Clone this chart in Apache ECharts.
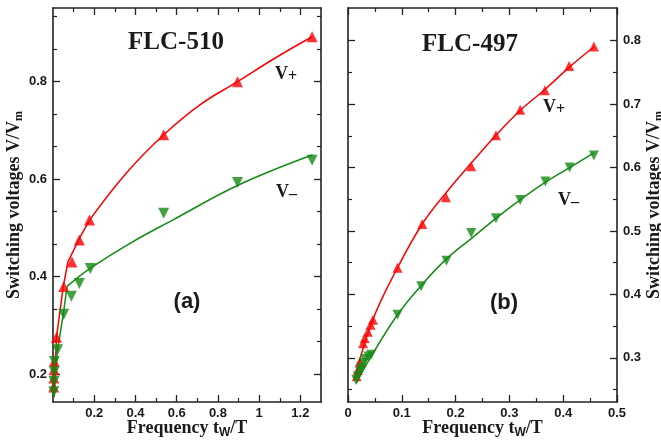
<!DOCTYPE html>
<html>
<head>
<meta charset="utf-8">
<script src="https://cdn.jsdelivr.net/npm/echarts@6/dist/echarts.min.js"></script>
<style>
  html, body { margin: 0; padding: 0; background: #fff; }
  #chart { width: 661px; height: 440px; }
</style>
</head>
<body>
<div id="chart"></div>
<script>
// ---- FLC-510 (panel a) ----
const aPlusX  = [0.003, 0.004, 0.005, 0.006, 0.017, 0.052, 0.092, 0.128, 0.177, 0.537, 0.895, 1.257];
const aPlusY  = [0.174, 0.192, 0.209, 0.226, 0.276, 0.380, 0.430, 0.475, 0.516, 0.691, 0.800, 0.892];
const aMinusX = [0.004, 0.005, 0.006, 0.007, 0.022, 0.052, 0.089, 0.128, 0.181, 0.537, 0.895, 1.257];
const aMinusY = [0.164, 0.185, 0.205, 0.226, 0.250, 0.323, 0.360, 0.386, 0.417, 0.530, 0.593, 0.639];
// polyline through the low-frequency points, then the fitted curve
const aPlusLowX  = [0.005, 0.017, 0.050, 0.072, 0.130, 0.177];
const aPlusLowY  = [0.153, 0.276, 0.380, 0.430, 0.480, 0.516];
const aPlusFitX  = [0.177, 0.357, 0.537, 0.711, 0.895, 1.080, 1.257];
const aPlusFitY  = [0.516, 0.613, 0.691, 0.752, 0.800, 0.849, 0.892];
const aMinusLowX = [0.004, 0.022, 0.050, 0.068];
const aMinusLowY = [0.153, 0.250, 0.323, 0.380];
const aMinusFitX = [0.068, 0.180, 0.380, 0.580, 0.900, 1.260];
const aMinusFitY = [0.380, 0.417, 0.470, 0.516, 0.588, 0.650];

// ---- FLC-497 (panel b) ----
const bPlusX  = [0.016, 0.0185, 0.022, 0.028, 0.031, 0.037, 0.042, 0.0465, 0.092, 0.138, 0.182, 0.229, 0.275, 0.320, 0.366, 0.411, 0.457];
const bPlusY  = [0.271, 0.281, 0.294, 0.323, 0.331, 0.341, 0.352, 0.360, 0.442, 0.511, 0.553, 0.602, 0.651, 0.691, 0.722, 0.760, 0.791];
const bMinusX = [0.0155, 0.0185, 0.022, 0.025, 0.029, 0.032, 0.038, 0.043, 0.092, 0.136, 0.183, 0.229, 0.275, 0.320, 0.367, 0.412, 0.457];
const bMinusY = [0.265, 0.271, 0.279, 0.284, 0.292, 0.298, 0.302, 0.305, 0.368, 0.413, 0.453, 0.497, 0.520, 0.549, 0.578, 0.600, 0.619];
const bPlusFitX  = [0.012, 0.046, 0.092, 0.138, 0.182, 0.229, 0.275, 0.320, 0.366, 0.411, 0.457];
const bPlusFitY  = [0.266, 0.360, 0.442, 0.511, 0.560, 0.607, 0.651, 0.690, 0.723, 0.758, 0.790];
const bMinusFitX = [0.015, 0.045, 0.092, 0.136, 0.183, 0.229, 0.275, 0.320, 0.367, 0.412, 0.457];
const bMinusFitY = [0.260, 0.305, 0.368, 0.414, 0.456, 0.488, 0.520, 0.549, 0.577, 0.600, 0.623];

// ---- axis ticks ----
const aXMajor = [0.2, 0.4, 0.6, 0.8, 1, 1.2];
const aXMinor = [0.1, 0.3, 0.5, 0.7, 0.9, 1.1];
const aYMajor = [0.2, 0.4, 0.6, 0.8];
const aYMinor = [0.26667, 0.33333, 0.46667, 0.53333, 0.66667, 0.73333, 0.86667, 0.93333];
const bXMajor = [0, 0.1, 0.2, 0.3, 0.4, 0.5];
const bXMinor = [0.05, 0.15, 0.25, 0.35, 0.45];
const bYMajor = [0.3, 0.4, 0.5, 0.6, 0.7, 0.8];
const bYMinor = [0.25, 0.35, 0.45, 0.55, 0.65, 0.75];

const RED = '#ff0000';
const GREEN = '#138a13';
const INK = '#1a1a1a';
const SERIF = '"Liberation Serif", "DejaVu Serif", serif';
const SANS = '"Liberation Sans", Arial, sans-serif';

const zip = (xs, ys) => xs.map((x, i) => [x, ys[i]]);

const nameRich = {
  t: { fontFamily: SERIF, fontWeight: 'bold', fontSize: 18, color: INK, lineHeight: 22, verticalAlign: 'middle' },
  s: { fontFamily: SERIF, fontWeight: 'bold', fontSize: 12, color: INK, lineHeight: 10, verticalAlign: 'bottom' },
  w: { fontFamily: SANS, fontWeight: 'bold', fontSize: 12, color: INK, lineHeight: 10, verticalAlign: 'bottom' }
};

// One side of a frame: a major axis (line, long ticks, optional labels) and a minor axis (short ticks)
function side(dim, grid, pos, min, max, majors, minors, labels, name, nameGap) {
  const major = {
    type: 'value', gridIndex: grid, position: pos, min: min, max: max,
    axisLine: { show: true, onZero: false, lineStyle: { color: '#222', width: 1.6 } },
    axisTick: { show: true, inside: true, length: 7, customValues: majors, lineStyle: { color: '#222', width: 1.3 } },
    axisLabel: labels ? {
      show: true, customValues: majors, margin: dim === 'x' ? 5 : 6,
      fontFamily: SANS, fontWeight: 'bold', fontSize: 13, color: INK
    } : { show: false },
    splitLine: { show: false }
  };
  if (name) {
    major.name = name;
    major.nameLocation = 'middle';
    major.nameGap = nameGap;
    major.nameTextStyle = { rich: nameRich };
    if (dim === 'y') major.nameRotate = 90;
    else major.nameMoveOverlap = false;
  }
  const minor = {
    type: 'value', gridIndex: grid, position: pos, min: min, max: max,
    axisLine: { show: false, onZero: false },
    axisTick: { show: true, inside: true, length: 4, customValues: minors, lineStyle: { color: '#222', width: 1.2 } },
    axisLabel: { show: false },
    splitLine: { show: false }
  };
  return [major, minor];
}

const xName = '{t|Frequency t}{w|W}{t|/T}';
const yName = '{t|Switching voltages V/V}{s|m}';

const xAxes = [].concat(
  side('x', 0, 'bottom', 0, 1.3, aXMajor, aXMinor, true, xName, 15),    // 0,1
  side('x', 0, 'top', 0, 1.3, aXMajor, aXMinor, false),                 // 2,3
  side('x', 1, 'bottom', 0, 0.5, bXMajor, bXMinor, true, xName, 15),    // 4,5
  side('x', 1, 'top', 0, 0.5, bXMajor, bXMinor, false)                  // 6,7
);
const yAxes = [].concat(
  side('y', 0, 'left', 0.143, 0.951, aYMajor, aYMinor, true, yName, 27),     // 0,1
  side('y', 0, 'right', 0.143, 0.951, aYMajor, aYMinor, false),              // 2,3
  side('y', 1, 'left', 0.2304, 0.8515, bYMajor, bYMinor, false),             // 4,5
  side('y', 1, 'right', 0.2304, 0.8515, bYMajor, bYMinor, true, yName, 22)   // 6,7
);

function curve(xi, yi, xs, ys, color, smooth) {
  return {
    type: 'line', xAxisIndex: xi, yAxisIndex: yi, data: zip(xs, ys),
    showSymbol: false, smooth: smooth, silent: true, z: 2,
    lineStyle: { color: color, width: 1.5 }
  };
}
function marks(xi, yi, xs, ys, color, down, size) {
  return {
    type: 'scatter', xAxisIndex: xi, yAxisIndex: yi, data: zip(xs, ys),
    symbol: 'triangle', symbolSize: size, symbolRotate: down ? 180 : 0, z: 3,
    itemStyle: { color: color }
  };
}

function vLabel(x, y, sub) {
  return {
    type: 'text', x: x, y: y, z: 10,
    style: {
      text: '{v|V}{s|' + sub + '}',
      textVerticalAlign: 'middle',
      rich: {
        v: { font: 'bold 18px ' + SERIF, fill: INK, lineHeight: 22, verticalAlign: 'middle' },
        s: { font: 'bold 16px ' + SERIF, fill: INK, lineHeight: 6, verticalAlign: 'bottom' }
      }
    }
  };
}

const chart = echarts.init(document.getElementById('chart'), null, { renderer: 'canvas' });
chart.setOption({
  animation: false,
  backgroundColor: '#ffffff',
  grid: [
    { left: 53, right: 340, top: 8, bottom: 38, containLabel: false, outerBoundsMode: 'none' },
    { left: 348, right: 44, top: 8, bottom: 38, containLabel: false, outerBoundsMode: 'none' }
  ],
  xAxis: xAxes,
  yAxis: yAxes,
  series: [
    curve(0, 0, aPlusLowX, aPlusLowY, RED, false),
    curve(0, 0, aPlusFitX, aPlusFitY, RED, 0.4),
    curve(0, 0, aMinusLowX, aMinusLowY, GREEN, false),
    curve(0, 0, aMinusFitX, aMinusFitY, GREEN, 0.4),
    marks(0, 0, aPlusX, aPlusY, RED, false, 11),
    marks(0, 0, aMinusX, aMinusY, GREEN, true, 11),
    curve(4, 6, bPlusFitX, bPlusFitY, RED, 0.4),
    curve(4, 6, bMinusFitX, bMinusFitY, GREEN, 0.4),
    marks(4, 6, bPlusX, bPlusY, RED, false, 10),
    marks(4, 6, bMinusX, bMinusY, GREEN, true, 10)
  ],
  graphic: [
    { type: 'text', x: 176, y: 43, z: 10,
      style: { text: 'FLC-510', font: 'bold 25px ' + SERIF, fill: INK, textAlign: 'center', textVerticalAlign: 'middle' } },
    { type: 'text', x: 470, y: 45, z: 10,
      style: { text: 'FLC-497', font: 'bold 25px ' + SERIF, fill: INK, textAlign: 'center', textVerticalAlign: 'middle' } },
    { type: 'text', x: 187, y: 302, z: 10,
      style: { text: '(a)', font: 'bold 22px ' + SANS, fill: INK, textAlign: 'center', textVerticalAlign: 'middle' } },
    { type: 'text', x: 504, y: 303, z: 10,
      style: { text: '(b)', font: 'bold 22px ' + SANS, fill: INK, textAlign: 'center', textVerticalAlign: 'middle' } },
    vLabel(275, 74, '+'),
    vLabel(276, 192, '\u2013'),
    vLabel(543, 107, '+'),
    vLabel(558, 200, '\u2013')
  ]
});
</script>
</body>
</html>
